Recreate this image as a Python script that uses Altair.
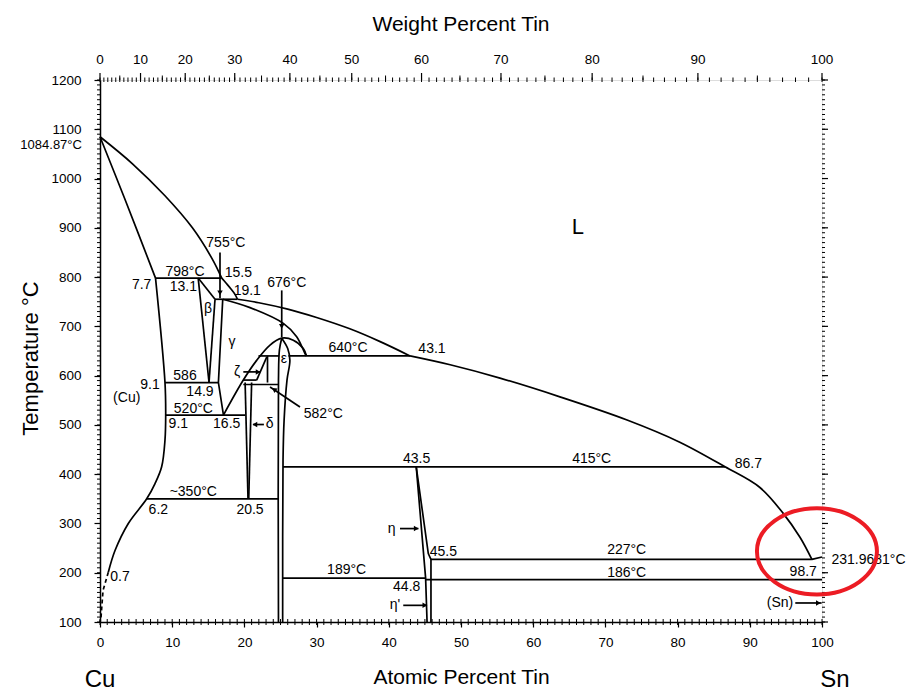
import altair as alt
import pandas as pd

# ---------------- axis ticks ----------------
at_major = list(range(0, 101, 10))          # atomic % Sn (bottom)
at_minor = list(range(0, 101, 1))
t_major = list(range(100, 1201, 100))       # temperature, deg C
t_minor = list(range(100, 1201, 10))
wt_major = list(range(0, 101, 10))          # weight % Sn (top)
wt_mid = list(range(5, 100, 10))
wt_minor = list(range(0, 101, 1))
M_CU, M_SN = 63.546, 118.71                 # atomic weights for wt% -> at% axis

# ---------------- phase boundaries (at.% Sn, deg C) ----------------
liq_a_x = [0, 4.5, 9.0, 12.8, 15.5, 16.86]
liq_a_t = [1084.87, 1030, 965, 900, 838, 798]
liq_b_x = [16.86, 17.45, 18.14, 18.7, 19.04]
liq_b_t = [798, 788, 776, 765, 755]
liq_c_x = [19.04, 22.0, 26.0, 30.0, 34.6, 38.8, 42.94]
liq_c_t = [755, 748, 735, 718, 695, 669, 640]
liq_d_x = [42.94, 48.5, 55.4, 63.7, 73.0, 80.3, 86.57, 91.4, 94.6, 96.95, 98.6]
liq_d_t = [640, 622, 595, 557, 510, 465, 415, 373, 321, 272, 227]
sol_cu_x = [0, 3.4, 7.69]
sol_cu_t = [1084.87, 960, 798]
solvus_x = [7.69, 9.0, 9.1, 9.0, 8.54, 7.62, 6.47, 3.92, 2.08, 1.15]
solvus_t = [798, 586, 520, 469, 415, 381, 350, 300, 245, 201]
solvus_dash_x = [1.15, 0.42, 0.14, 0.0]
solvus_dash_t = [201, 164, 110, 100]
dome_x = [17.1, 19.85, 21.7, 23.55, 25.17, 26.77, 28.16, 28.6]
dome_t = [520, 591, 631, 662, 676, 672, 655, 640]
gam_sol_x = [17.0, 20.78, 25.39, 27.24, 28.39, 28.6]
gam_sol_t = [755, 738, 706, 679, 645, 640]
eps_l_x = [25.17, 24.85, 24.72, 24.72]
eps_l_t = [676, 652, 591, 100]
eps_r_x = [25.17, 26.0, 26.3, 25.9, 25.5, 25.35, 25.3]
eps_r_t = [676, 655, 631, 591, 510, 428, 100]

straight = {
    "798": ([7.69, 16.86], [798, 798]),
    "beta_l": ([13.6, 15.1], [798, 586]),
    "beta_top": ([13.6, 15.93], [798, 755]),
    "beta_r": ([15.93, 15.1], [755, 586]),
    "755": ([15.93, 19.04], [755, 755]),
    "gam_l": ([17.0, 16.4, 17.1], [755, 586, 520]),
    "586": ([9.0, 16.4], [586, 586]),
    "520": ([9.1, 20.1], [520, 520]),
    "640_r": ([26.1, 42.94], [640, 640]),
    "640_l": ([21.95, 24.8], [640, 640]),
    "582": ([19.85, 24.72], [582, 582]),
    "zeta1": ([21.7, 23.1], [591, 638]),
    "zeta2": ([23.2, 23.2], [640, 586]),
    "zeta3": ([19.85, 21.7], [591, 591]),
    "delta_l": ([20.1, 20.5], [586, 350]),
    "delta_r": ([21.0, 20.6], [586, 350]),
    "350": ([6.47, 24.72], [350, 350]),
    "415": ([25.35, 86.57], [415, 415]),
    "eta_l": ([43.8, 45.1, 45.3], [415, 189, 100]),
    "eta_r": ([43.8, 45.47, 45.84, 45.84], [415, 239, 227, 100]),
    "189": ([25.3, 45.1], [189, 189]),
    "186": ([45.1, 100], [186, 186]),
    "227": ([45.84, 98.6], [227, 227]),
    "sn_end": ([98.6, 100], [227, 231.97]),
    # arrows
    "arr755": ([16.62, 16.62], [850, 757]),
    "arr676": ([25.17, 25.17], [773, 678]),
    "arrzeta": ([19.85, 22.16], [607.6, 607.6]),
    "arr582": ([27.7, 23.55], [536.5, 577]),
    "arrdelta": ([22.7, 21.2], [500.8, 500.8]),
    "arreta": ([41.55, 44.1], [289.6, 289.6]),
    "arreta2": ([42.0, 45.3], [133.8, 133.8]),
    "arrsn": ([96.3, 99.95], [138.6, 138.6]),
}
curved = {
    "liq_a": (liq_a_x, liq_a_t),
    "liq_b": (liq_b_x, liq_b_t),
    "liq_c": (liq_c_x, liq_c_t),
    "liq_d": (liq_d_x, liq_d_t),
    "sol_cu": (sol_cu_x, sol_cu_t),
    "solvus": (solvus_x, solvus_t),
    "dome": (dome_x, dome_t),
    "gam_sol": (gam_sol_x, gam_sol_t),
    "eps_l": (eps_l_x, eps_l_t),
    "eps_r": (eps_r_x, eps_r_t),
}

# arrow heads
head_x = [16.62, 25.17, 21.9, 24.1, 21.45, 43.8, 45.0, 99.5]
head_t = [768, 700, 607.6, 572, 500.8, 289.6, 133.8, 138.6]
head_shape = ["triangle-down", "triangle-down", "triangle-right", "triangle-up",
              "triangle-left", "triangle-right", "triangle-right", "triangle-right"]
head_angle = [0, 0, 0, 304, 0, 0, 0, 0]

# ---------------- labels ----------------
lab_text = ["755°C", "798°C", "15.5", "7.7", "13.1", "19.1", "676°C", "β", "γ",
            "640°C", "43.1", "ε", "ζ", "586", "9.1", "(Cu)", "14.9", "520°C",
            "582°C", "9.1", "16.5", "δ", "43.5", "415°C", "86.7", "~350°C",
            "6.2", "20.5", "η", "45.5", "227°C", "0.7", "189°C", "186°C",
            "98.7", "44.8", "η'", "(Sn)", "L"]
lab_x = [17.43, 11.77, 19.16, 5.77, 11.54, 20.4, 25.86, 14.96, 18.28,
         34.35, 45.98, 25.48, 19.0, 11.77, 6.93, 3.7, 13.85, 12.93,
         30.93, 10.85, 17.55, 23.5, 43.86, 68.1, 89.8, 12.92,
         8.08, 20.78, 40.4, 47.55, 72.95, 2.77, 34.16, 72.95,
         97.4, 42.48, 40.86, 94.18, 66.2]
lab_t = [868.3, 810.7, 808.7, 783.7, 780, 772, 789, 734.9, 667.9,
         655.7, 653.7, 633.4, 607.6, 598.9, 580.6, 553.6, 567, 533.3,
         523.1, 502.8, 502.8, 502.8, 431.7, 431.7, 421.6, 363.9,
         326.7, 326.7, 289.6, 242, 245.5, 191.3, 204.9, 199.5,
         201.5, 171, 133.8, 138.6, 901.5]
lab_size = [14] * 38 + [22]

# labels outside the frame
melt_cu = ["1084.87°C"]
melt_cu_x = [-2.5]
melt_cu_t = [1069]
melt_sn = ["231.9681°C"]
melt_sn_x = [101.3]
melt_sn_t = [225]
elem_text = ["Cu", "Sn"]
elem_x = [0, 101.8]

# red highlight ellipse (centre)
ring_x = [99.3]
ring_t = [243.4]

# ---------------- build tables ----------------
def table(d):
    frames = []
    for k, (xs, ts) in d.items():
        frames.append(pd.DataFrame({"seg": k, "X": xs, "T": ts, "o": range(len(xs))}))
    return pd.concat(frames, ignore_index=True)

df_straight = table(straight)
df_curved = table(curved)
df_dash = pd.DataFrame({"seg": "dash", "X": solvus_dash_x, "T": solvus_dash_t,
                        "o": range(len(solvus_dash_x))})
df_heads = pd.DataFrame({"X": head_x, "T": head_t, "shape": head_shape, "ang": head_angle})
df_lab = pd.DataFrame({"label": lab_text, "X": lab_x, "T": lab_t, "fs": lab_size})

wt_to_at = lambda w: 100 * (w / M_SN) / ((w / M_SN) + ((100 - w) / M_CU))
df_top_major = pd.DataFrame({"X": [wt_to_at(w) for w in wt_major], "lab": [str(w) for w in wt_major]})
df_top_mid = pd.DataFrame({"X": [wt_to_at(w) for w in wt_mid]})
df_top_minor = pd.DataFrame({"X": [wt_to_at(w) for w in wt_minor]})

FONT = "Liberation Sans"
xscale = alt.Scale(domain=[0, 100], nice=False, zero=False)
yscale = alt.Scale(domain=[100, 1200], nice=False, zero=False)
xaxis = alt.Axis(values=at_major, format="d", title="Atomic Percent Tin", tickSize=5, tickWidth=1.2,
                 tickColor="black", domainColor="black", domainWidth=1.5,
                 labelFontSize=13.5, labelPadding=8, labelColor="black", labelFont=FONT,
                 titleFontSize=21, titleFontWeight="normal", titlePadding=18,
                 titleColor="black", titleFont=FONT, grid=False, labelFlush=False)
yaxis = alt.Axis(values=t_major, format="d", title="Temperature °C", tickSize=6, tickWidth=1.2,
                 tickColor="black", domainColor="black", domainWidth=1.5,
                 labelFontSize=13.5, labelPadding=13, labelColor="black", labelFont=FONT,
                 titleFontSize=22, titleFontWeight="normal", titleColor="black",
                 titleFont=FONT, titleAngle=-90, titleX=-70, titleY=278,
                 titleAlign="center", titleBaseline="middle", grid=False, labelFlush=False)

def ex():
    return alt.X("X:Q", scale=xscale, axis=xaxis)

def ey():
    return alt.Y("T:Q", scale=yscale, axis=yaxis)

lines_s = alt.Chart(df_straight).mark_line(color="black", strokeWidth=1.7).encode(
    x=ex(), y=ey(), detail="seg:N", order="o:Q")
lines_c = alt.Chart(df_curved).mark_line(color="black", strokeWidth=1.7,
                                          interpolate="catmull-rom").encode(
    x=ex(), y=ey(), detail="seg:N", order="o:Q")
lines_d = alt.Chart(df_dash).mark_line(color="black", strokeWidth=1.7,
                                        strokeDash=[4, 3]).encode(
    x=ex(), y=ey(), order="o:Q")
heads = alt.Chart(df_heads).mark_point(filled=True, color="black", size=30, opacity=1).encode(
    x=ex(), y=ey(), shape=alt.Shape("shape:N", scale=None), angle=alt.Angle("ang:Q", scale=None))
labels = alt.Chart(df_lab).mark_text(font=FONT, color="black", align="center",
                                     baseline="middle").encode(
    x=ex(), y=ey(), text="label:N", size=alt.Size("fs:Q", scale=None))
lab_cu = alt.Chart(pd.DataFrame({"label": melt_cu, "X": melt_cu_x, "T": melt_cu_t})).mark_text(
    font=FONT, color="black", align="right", baseline="middle", fontSize=13).encode(
    x=ex(), y=ey(), text="label:N")
lab_sn = alt.Chart(pd.DataFrame({"label": melt_sn, "X": melt_sn_x, "T": melt_sn_t})).mark_text(
    font=FONT, color="black", align="left", baseline="middle", fontSize=14).encode(
    x=ex(), y=ey(), text="label:N")
elems = alt.Chart(pd.DataFrame({"label": elem_text, "X": elem_x})).mark_text(
    font=FONT, color="black", align="center", baseline="middle", fontSize=24).encode(
    x=ex(), y=alt.value(600), text="label:N")

# minor ticks
bot_minor = alt.Chart(pd.DataFrame({"X": at_minor})).mark_rule(color="black", strokeWidth=1).encode(
    x=ex(), y=alt.value(539), y2=alt.value(545))
left_minor = alt.Chart(pd.DataFrame({"T": t_minor})).mark_rule(color="black", strokeWidth=1).encode(
    y=ey(), x=alt.value(-3), x2=alt.value(0))
right_minor = alt.Chart(pd.DataFrame({"T": t_minor})).mark_rule(color="black", strokeWidth=1).encode(
    y=ey(), x=alt.value(722), x2=alt.value(725))
right_major = alt.Chart(pd.DataFrame({"T": t_major})).mark_rule(color="black", strokeWidth=1.2).encode(
    y=ey(), x=alt.value(722), x2=alt.value(728))
top_minor = alt.Chart(df_top_minor).mark_rule(color="black", strokeWidth=1).encode(
    x=ex(), y=alt.value(-2.5), y2=alt.value(2))
top_mid = alt.Chart(df_top_mid).mark_rule(color="black", strokeWidth=1).encode(
    x=ex(), y=alt.value(-4.5), y2=alt.value(0))
top_major = alt.Chart(df_top_major).mark_rule(color="black", strokeWidth=1.2).encode(
    x=ex(), y=alt.value(-7), y2=alt.value(0))
top_labels = alt.Chart(df_top_major).mark_text(font=FONT, color="black", fontSize=13.5,
                                               baseline="middle").encode(
    x=ex(), y=alt.value(-20), text="lab:N")

path = ("M1,0 C1,0.398 0.552,0.72 0,0.72 C-0.552,0.72 -1,0.398 -1,0 "
        "C-1,-0.398 -0.552,-0.72 0,-0.72 C0.552,-0.72 1,-0.398 1,0 Z")
ring = alt.Chart(pd.DataFrame({"X": ring_x, "T": ring_t})).mark_point(
    shape=path, filled=False, stroke="#ec1c24", strokeWidth=4, size=14400, opacity=1).encode(
    x=ex(), y=ey())

chart = alt.layer(
    bot_minor, left_minor, right_minor, right_major, top_minor, top_mid, top_major, top_labels,
    lines_s, lines_c, lines_d, heads, labels, lab_cu, lab_sn, elems, ring
).properties(
    width=722, height=542,
    padding={"left": 100, "top": 80, "right": 90, "bottom": 69},
    autosize=alt.AutoSizeParams(type="none"),
    title=alt.TitleParams("Weight  Percent Tin", fontSize=21, fontWeight="normal",
                          font=FONT, color="black", anchor="middle", offset=18),
).configure_view(stroke="black", strokeWidth=1.5).configure(font=FONT, background="white")

chart.save("out.html", embed_options={"renderer": "svg", "actions": False})
